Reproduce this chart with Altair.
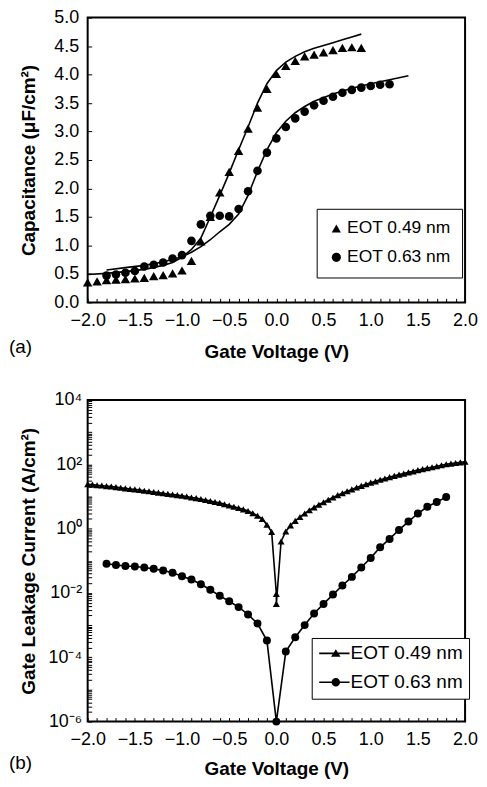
import altair as alt
import pandas as pd

S1 = "EOT 0.49 nm"
S2 = "EOT 0.63 nm"
series_names = [S1, S2]
panel_labels = ["(a)", "(b)"]

# ---------------- (a) C-V: measured points ----------------
cv_tri_v = [-2.0, -1.9, -1.8, -1.7, -1.6, -1.5, -1.4, -1.3, -1.2, -1.1, -1.0, -0.9, -0.8, -0.7,
            -0.6, -0.5, -0.4, -0.3, -0.2, -0.1, 0.0, 0.1, 0.2, 0.3, 0.4, 0.5, 0.6, 0.7, 0.8, 0.9]
cv_tri_c = [0.35, 0.37, 0.39, 0.40, 0.41, 0.42, 0.43, 0.46, 0.48, 0.51, 0.56, 0.73, 1.07, 1.50,
            1.93, 2.29, 2.66, 3.05, 3.42, 3.75, 4.01, 4.15, 4.24, 4.32, 4.35, 4.39, 4.43, 4.47, 4.48, 4.47]
cv_cir_v = [-1.8, -1.7, -1.6, -1.5, -1.4, -1.3, -1.2, -1.1, -1.0, -0.9, -0.8, -0.7, -0.6, -0.5,
            -0.4, -0.3, -0.2, -0.1, 0.0, 0.1, 0.2, 0.3, 0.4, 0.5, 0.6, 0.7, 0.8, 0.9, 1.0, 1.1, 1.2]
cv_cir_c = [0.47, 0.49, 0.52, 0.55, 0.63, 0.66, 0.70, 0.77, 0.83, 1.08, 1.37, 1.52, 1.52, 1.51,
            1.64, 1.95, 2.31, 2.63, 2.88, 3.08, 3.23, 3.35, 3.46, 3.54, 3.61, 3.68, 3.73, 3.77, 3.80, 3.82, 3.83]

# ---------------- (a) C-V: fitted curves ----------------
fit_tri_v = [-2.0, -1.8, -1.6, -1.4, -1.2, -1.1, -1.0, -0.9, -0.8, -0.7, -0.6, -0.5, -0.4, -0.3,
             -0.2, -0.1, 0.0, 0.1, 0.2, 0.3, 0.4, 0.5, 0.6, 0.7, 0.8, 0.9]
fit_tri_c = [0.49, 0.51, 0.54, 0.58, 0.65, 0.70, 0.79, 0.93, 1.13, 1.50, 1.88, 2.27, 2.68, 3.08,
             3.50, 3.84, 4.07, 4.22, 4.32, 4.40, 4.46, 4.51, 4.56, 4.61, 4.66, 4.71]
fit_cir_v = [-1.8, -1.6, -1.4, -1.2, -1.0, -0.9, -0.8, -0.7, -0.6, -0.5, -0.4, -0.3, -0.2, -0.1,
             0.0, 0.1, 0.2, 0.3, 0.4, 0.6, 0.8, 1.0, 1.2, 1.4]
fit_cir_c = [0.57, 0.61, 0.65, 0.71, 0.80, 0.88, 0.98, 1.10, 1.24, 1.37, 1.55, 1.88, 2.30, 2.68,
             2.98, 3.18, 3.33, 3.44, 3.53, 3.66, 3.76, 3.84, 3.91, 3.98]

# ---------------- (b) J-V ----------------
jv_tri_v = [-2.00, -1.95, -1.90, -1.85, -1.80, -1.75, -1.70, -1.65, -1.60, -1.55, -1.50, -1.45,
            -1.40, -1.35, -1.30, -1.25, -1.20, -1.15, -1.10, -1.05, -1.00, -0.95, -0.90, -0.85,
            -0.80, -0.75, -0.70, -0.65, -0.60, -0.55, -0.50, -0.45, -0.40, -0.35, -0.30, -0.25,
            -0.20, -0.15, -0.10, -0.05, 0.00, 0.00, 0.05, 0.10, 0.15, 0.20, 0.25, 0.30, 0.35,
            0.40, 0.45, 0.50, 0.55, 0.60, 0.65, 0.70, 0.75, 0.80, 0.85, 0.90, 0.95, 1.00, 1.05,
            1.10, 1.15, 1.20, 1.25, 1.30, 1.35, 1.40, 1.45, 1.50, 1.55, 1.60, 1.65, 1.70, 1.75,
            1.80, 1.85, 1.90, 1.95, 2.00]
jv_tri_j = [24.0, 23.4, 22.4, 21.9, 20.9, 20.4, 19.5, 18.6, 17.8, 17.0, 16.6, 15.8,
            15.1, 14.5, 13.8, 13.2, 12.6, 12.0, 11.5, 11.0, 10.5, 10.0, 9.33, 8.91,
            8.32, 7.76, 7.24, 6.76, 6.31, 5.75, 5.25, 4.79, 4.37, 3.98, 3.55, 3.02,
            2.51, 2.00, 1.32, 0.794, 0.00933, 0.00457, 0.398, 0.813, 1.26, 1.74, 2.29, 2.95, 3.72,
            4.57, 5.50, 6.61, 7.94, 9.33, 11.0, 12.6, 14.5, 16.6, 19.1, 21.4, 24.0, 26.9, 29.5,
            33.1, 36.3, 39.8, 43.7, 47.9, 51.3, 56.2, 60.3, 66.1, 70.8, 75.9, 81.3, 87.1, 93.3,
            100.0, 105.0, 110.0, 115.0, 120.0]
jv_cir_v = [-1.8, -1.7, -1.6, -1.5, -1.4, -1.3, -1.2, -1.1, -1.0, -0.9, -0.8, -0.7, -0.6,
            -0.5, -0.4, -0.3, -0.2, -0.1, 0.0, 0.1, 0.2, 0.3, 0.4, 0.5, 0.6, 0.7, 0.8, 0.9,
            1.0, 1.1, 1.2, 1.3, 1.4, 1.5, 1.6, 1.7, 1.8]
jv_cir_j = [0.0813, 0.0741, 0.0692, 0.0661, 0.0617, 0.0562, 0.0501, 0.0427, 0.0331, 0.0263,
            0.0186, 0.0126, 0.00813, 0.00550, 0.00363, 0.00214, 0.00112, 0.000331, 0.000001,
            0.000151, 0.000417, 0.00100, 0.00229, 0.00457, 0.00891, 0.0170, 0.0316, 0.0617,
            0.123, 0.263, 0.479, 0.912, 1.66, 2.95, 4.79, 6.76, 9.55]

# ---------------- axes ----------------
x_major = [-2.0, -1.5, -1.0, -0.5, 0.0, 0.5, 1.0, 1.5, 2.0]
x_minor = [round(-2.0 + 0.1 * i, 1) for i in range(41)]
c_major = [0.0, 0.5, 1.0, 1.5, 2.0, 2.5, 3.0, 3.5, 4.0, 4.5, 5.0]
j_major = [1e-6, 1e-4, 1e-2, 1e0, 1e2, 1e4]
j_minor = [m * 10.0 ** k for k in range(-6, 4) for m in range(1, 10)] + [1e4]

W = 379
H1 = 286
H2 = 323
FONT = "Liberation Sans"

cv_df = pd.DataFrame({
    "V": cv_tri_v + cv_cir_v,
    "C": cv_tri_c + cv_cir_c,
    "series": [S1] * len(cv_tri_v) + [S2] * len(cv_cir_v),
})
fit_df = pd.DataFrame({
    "V": fit_tri_v + fit_cir_v,
    "C": fit_tri_c + fit_cir_c,
    "series": [S1] * len(fit_tri_v) + [S2] * len(fit_cir_v),
})
jv_df = pd.DataFrame({
    "V": jv_tri_v + jv_cir_v,
    "J": jv_tri_j + jv_cir_j,
    "series": [S1] * len(jv_tri_v) + [S2] * len(jv_cir_v),
    "idx": list(range(len(jv_tri_v))) + list(range(len(jv_cir_v))),
})

xscale = alt.Scale(domain=[-2, 2], nice=False, zero=False)
cscale = alt.Scale(domain=[0, 5], nice=False, zero=False)
jscale = alt.Scale(type="log", domain=[1e-6, 1e4], nice=False)


def main_x_axis(tpad):
    return alt.Axis(orient="bottom", values=x_major, format=".1f", ticks=False, tickSize=0,
                    domain=False, grid=False, labelPadding=9, titlePadding=tpad, labelFlush=False)


def tick_axis(orient, vals):
    return alt.Axis(orient=orient, values=vals, labels=False, domain=False, grid=False,
                    ticks=True, tickSize=4, tickWidth=1, tickColor="black", offset=-4)


def legend_layer(df, xf, yf, yscale, shapes, lx, ly, pad, fsize, ssize, rpad, loff):
    return alt.Chart(df).transform_filter("false").mark_point(
        filled=True, color="black", opacity=1
    ).encode(
        x=alt.X(xf, scale=xscale, axis=None),
        y=alt.Y(yf, scale=yscale, axis=None),
        shape=alt.Shape("series:N", scale=alt.Scale(domain=series_names, range=shapes),
                        legend=alt.Legend(title=None, orient="none", legendX=lx, legendY=ly,
                                          direction="vertical", strokeColor="black",
                                          fillColor="white", padding=pad, labelFontSize=fsize,
                                          labelFont=FONT, labelColor="black", symbolSize=ssize,
                                          symbolFillColor="black", rowPadding=rpad,
                                          labelOffset=loff)),
    )


sup_expr = ("round(log(datum.value)/LN10) == 4 ? '10⁴' : round(log(datum.value)/LN10) == 2 ? '10²' : "
            "round(log(datum.value)/LN10) == 0 ? '10⁰' : round(log(datum.value)/LN10) == -2 ? '10⁻²' : "
            "round(log(datum.value)/LN10) == -4 ? '10⁻⁴' : '10⁻⁶'")

# ---------------- panel (a) ----------------
fit_layer = alt.Chart(fit_df).mark_line(color="black", strokeWidth=1.6).encode(
    x=alt.X("V:Q", scale=xscale, axis=main_x_axis(13), title="Gate Voltage (V)"),
    y=alt.Y("C:Q", scale=cscale, title="Capacitance (μF/cm²)",
            axis=alt.Axis(orient="left", values=c_major, format=".1f", ticks=False, tickSize=0,
                          domain=False, grid=False, labelPadding=9, titlePadding=15,
                          labelFlush=False)),
    detail="series:N",
)
cv_tri = alt.Chart(cv_df).transform_filter(alt.datum.series == S1).mark_point(
    filled=True, color="black", opacity=1, shape="triangle-up", size=90
).encode(
    x=alt.X("V:Q", scale=xscale, axis=tick_axis("bottom", x_minor), title=None),
    y=alt.Y("C:Q", scale=cscale, axis=tick_axis("left", c_major), title=None),
)
cv_cir = alt.Chart(cv_df).transform_filter(alt.datum.series == S2).mark_point(
    filled=True, color="black", opacity=1, shape="circle", size=75
).encode(
    x=alt.X("V:Q", scale=xscale, axis=None),
    y=alt.Y("C:Q", scale=cscale, axis=None),
)
cv_leg = legend_layer(cv_df, "V:Q", "C:Q", cscale, ["triangle-up", "circle"],
                      230, 192, 11, 17.5, 85, 10, 2)
lab_a = alt.Chart(pd.DataFrame({"label": [panel_labels[0]]})).mark_text(
    align="left", baseline="middle", fontSize=19, font=FONT, color="black"
).encode(text="label:N", x=alt.value(-79), y=alt.value(H1 + 45))

top = alt.layer(fit_layer, cv_tri, cv_cir, cv_leg, lab_a).resolve_axis(
    x="independent", y="independent").properties(width=W, height=H1)

# ---------------- panel (b) ----------------
tri_path = "M-1.6,-0.16H4.5V0.16H-1.6ZM1.74,-0.85L2.69,0.65L0.79,0.65Z"
cir_path = "M-1.6,-0.16H4.5V0.16H-1.6ZM2.59,0A0.85,0.85,0,1,1,0.89,0A0.85,0.85,0,1,1,2.59,0Z"

jv_lines = alt.Chart(jv_df).mark_line(color="black", strokeWidth=1.6).encode(
    x=alt.X("V:Q", scale=xscale, axis=main_x_axis(11), title="Gate Voltage (V)"),
    y=alt.Y("J:Q", scale=jscale, title="Gate Leakage Current (A/cm²)",
            axis=alt.Axis(orient="left", values=j_major, labelExpr=sup_expr, ticks=False,
                          tickSize=0, domain=False, grid=False, labelPadding=6,
                          titlePadding=10, labelFlush=False)),
    detail="series:N",
    order="idx:Q",
)
jv_tri = alt.Chart(jv_df).transform_filter(alt.datum.series == S1).mark_point(
    filled=True, color="black", opacity=1, shape="triangle-up", size=50
).encode(
    x=alt.X("V:Q", scale=xscale, axis=tick_axis("bottom", x_minor), title=None),
    y=alt.Y("J:Q", scale=jscale, axis=tick_axis("left", j_minor), title=None),
)
jv_cir = alt.Chart(jv_df).transform_filter(alt.datum.series == S2).mark_point(
    filled=True, color="black", opacity=1, shape="circle", size=64
).encode(
    x=alt.X("V:Q", scale=xscale, axis=None),
    y=alt.Y("J:Q", scale=jscale, axis=None),
)
jv_leg = legend_layer(jv_df, "V:Q", "J:Q", jscale, [tri_path, cir_path],
                      225, 239, 6, 19, 100, 9, 14)
lab_b = alt.Chart(pd.DataFrame({"label": [panel_labels[1]]})).mark_text(
    align="left", baseline="middle", fontSize=19, font=FONT, color="black"
).encode(text="label:N", x=alt.value(-79), y=alt.value(H2 + 42))

bottom = alt.layer(jv_lines, jv_tri, jv_cir, jv_leg, lab_b).resolve_axis(
    x="independent", y="independent").properties(width=W, height=H2)

chart = alt.vconcat(top, bottom, spacing=28).resolve_scale(
    shape="independent"
).resolve_legend(shape="independent").properties(
    padding={"left": 0, "top": -2, "right": 0, "bottom": -1}
).configure_view(stroke="black", strokeWidth=2).configure_axis(
    labelFont=FONT, labelFontSize=18, labelColor="black",
    titleFont=FONT, titleFontSize=19, titleFontWeight="bold", titleColor="black",
)

chart.save("out.html", embed_options={"renderer": "svg", "actions": False})
